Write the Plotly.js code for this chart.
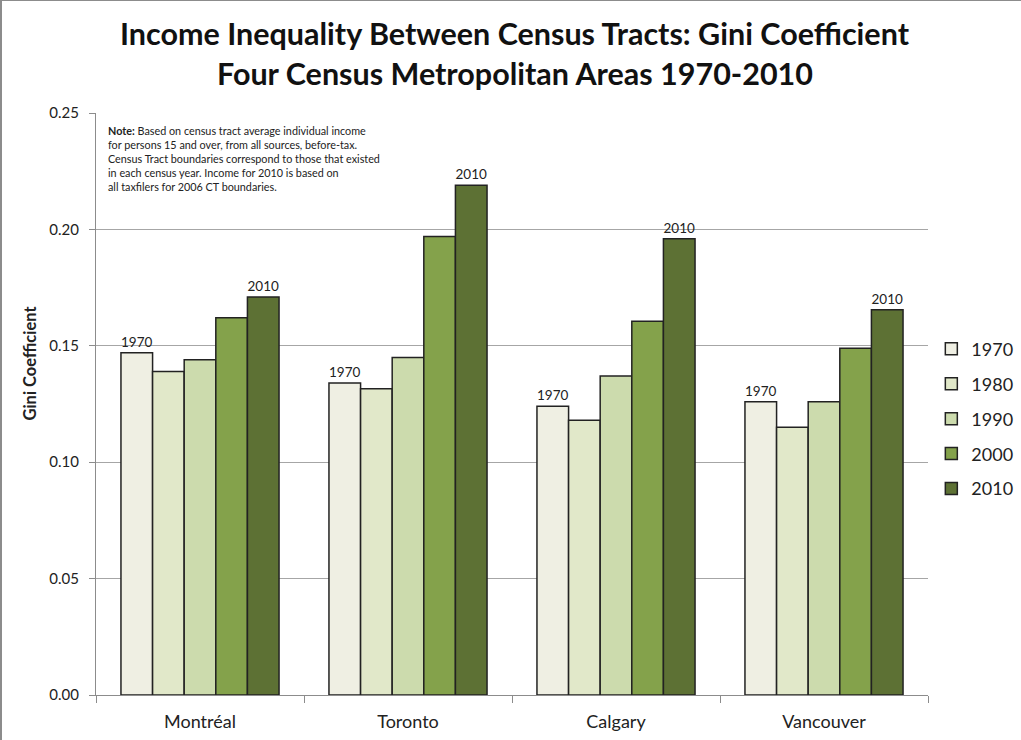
<!DOCTYPE html>
<html>
<head>
<meta charset="utf-8">
<script src="https://cdn.plot.ly/plotly-3.0.1.min.js"></script>
<style>
  html, body { margin: 0; padding: 0; background: #fff; }
  #chart { width: 1019px; height: 739px; border-top: 1px solid #8c8c8c; border-left: 2px solid #8c8c8c; }
</style>
</head>
<body>
<div id="chart"></div>
<script>
// Census metropolitan areas and census years
const cities = ['Montréal', 'Toronto', 'Calgary', 'Vancouver'];
const years = ['1970', '1980', '1990', '2000', '2010'];

// Gini coefficient of census-tract average income, one array per census year
const gini1970 = [0.147, 0.134, 0.124, 0.126];
const gini1980 = [0.139, 0.1315, 0.118, 0.115];
const gini1990 = [0.144, 0.145, 0.137, 0.126];
const gini2000 = [0.162, 0.197, 0.1605, 0.149];
const gini2010 = [0.171, 0.219, 0.196, 0.1655];

const seriesValues = [gini1970, gini1980, gini1990, gini2000, gini2010];
const fills = ['#efefe3', '#e1e8c9', '#ccdbad', '#84a24b', '#5d7134'];

// Only the first and last census years carry a year label above the bar
const labelled = { '1970': true, '2010': true };

const FONT = 'Lato, "Open Sans", sans-serif';

const traces = years.map((yr, i) => ({
  type: 'bar',
  name: yr,
  x: cities,
  y: seriesValues[i],
  text: labelled[yr] ? cities.map(() => yr) : undefined,
  textposition: labelled[yr] ? 'outside' : 'none',
  textfont: { family: FONT, size: 13.5, color: '#222' },
  cliponaxis: false,
  legendgroup: yr,
  marker: { color: fills[i], line: { color: '#222', width: 1.5 } },
  hoverinfo: 'x+y+name'
}));

const note = '<b>Note:</b> Based on census tract average individual income<br>' +
  'for persons 15 and over, from all sources, before-tax.<br>' +
  'Census Tract boundaries correspond to those that existed<br>' +
  'in each census year. Income for 2010 is based on<br>' +
  'all taxfilers for 2006 CT boundaries.';

const layout = {
  width: 1019,
  height: 739,
  margin: { l: 94, r: 93, t: 112, b: 45, autoexpand: false },
  paper_bgcolor: '#ffffff',
  plot_bgcolor: '#ffffff',
  font: { family: FONT, color: '#222' },
  showlegend: true,
  barmode: 'group',
  bargap: 0.24,
  bargroupgap: 0,
  xaxis: {
    type: 'category',
    showline: true, linecolor: '#8c8c8c', linewidth: 1,
    ticks: 'outside', tickson: 'boundaries', ticklen: 7, tickcolor: '#8c8c8c',
    ticklabelstandoff: 10,
    tickfont: { family: FONT, size: 18, color: '#222' },
    showgrid: false
  },
  yaxis: {
    range: [0, 0.25],
    dtick: 0.05,
    tickformat: '.2f',
    showline: true, linecolor: '#8c8c8c', linewidth: 1,
    ticks: 'outside', ticklen: 6, tickcolor: '#8c8c8c',
    ticklabelstandoff: 7,
    tickfont: { family: FONT, size: 15, color: '#222' },
    gridcolor: '#a6a6a6', gridwidth: 1,
    zeroline: false
  },
  legend: {
    x: 1.004, xanchor: 'left',
    y: 0.626, yanchor: 'top',
    traceorder: 'grouped',
    tracegroupgap: 8.5,
    font: { family: FONT, size: 18, color: '#222' },
    bgcolor: 'rgba(0,0,0,0)'
  },
  annotations: [
    {
      xref: 'paper', yref: 'paper',
      x: 0.504, y: 1.137, xanchor: 'center', yanchor: 'middle',
      showarrow: false,
      text: '<b>Income Inequality Between Census Tracts: Gini Coefficient</b>',
      font: { family: FONT, size: 30.5, color: '#111' }
    },
    {
      xref: 'paper', yref: 'paper',
      x: 0.504, y: 1.068, xanchor: 'center', yanchor: 'middle',
      showarrow: false,
      text: '<b>Four Census Metropolitan Areas 1970-2010</b>',
      font: { family: FONT, size: 30.5, color: '#111' }
    },
    {
      // rotated axis title, set a little above the plot's mid-height
      xref: 'paper', yref: 'paper',
      x: -0.079, y: 0.57, xanchor: 'center', yanchor: 'middle',
      textangle: -90,
      showarrow: false,
      text: '<b>Gini Coefficient</b>',
      font: { family: FONT, size: 16.5, color: '#222' }
    },
    {
      xref: 'paper', yref: 'paper',
      x: 0.012, y: 0.985, xanchor: 'left', yanchor: 'top',
      align: 'left',
      showarrow: false,
      text: note,
      font: { family: FONT, size: 10.8, color: '#222' }
    }
  ]
};

Plotly.newPlot('chart', traces, layout, { displayModeBar: false, responsive: false });
</script>
</body>
</html>
